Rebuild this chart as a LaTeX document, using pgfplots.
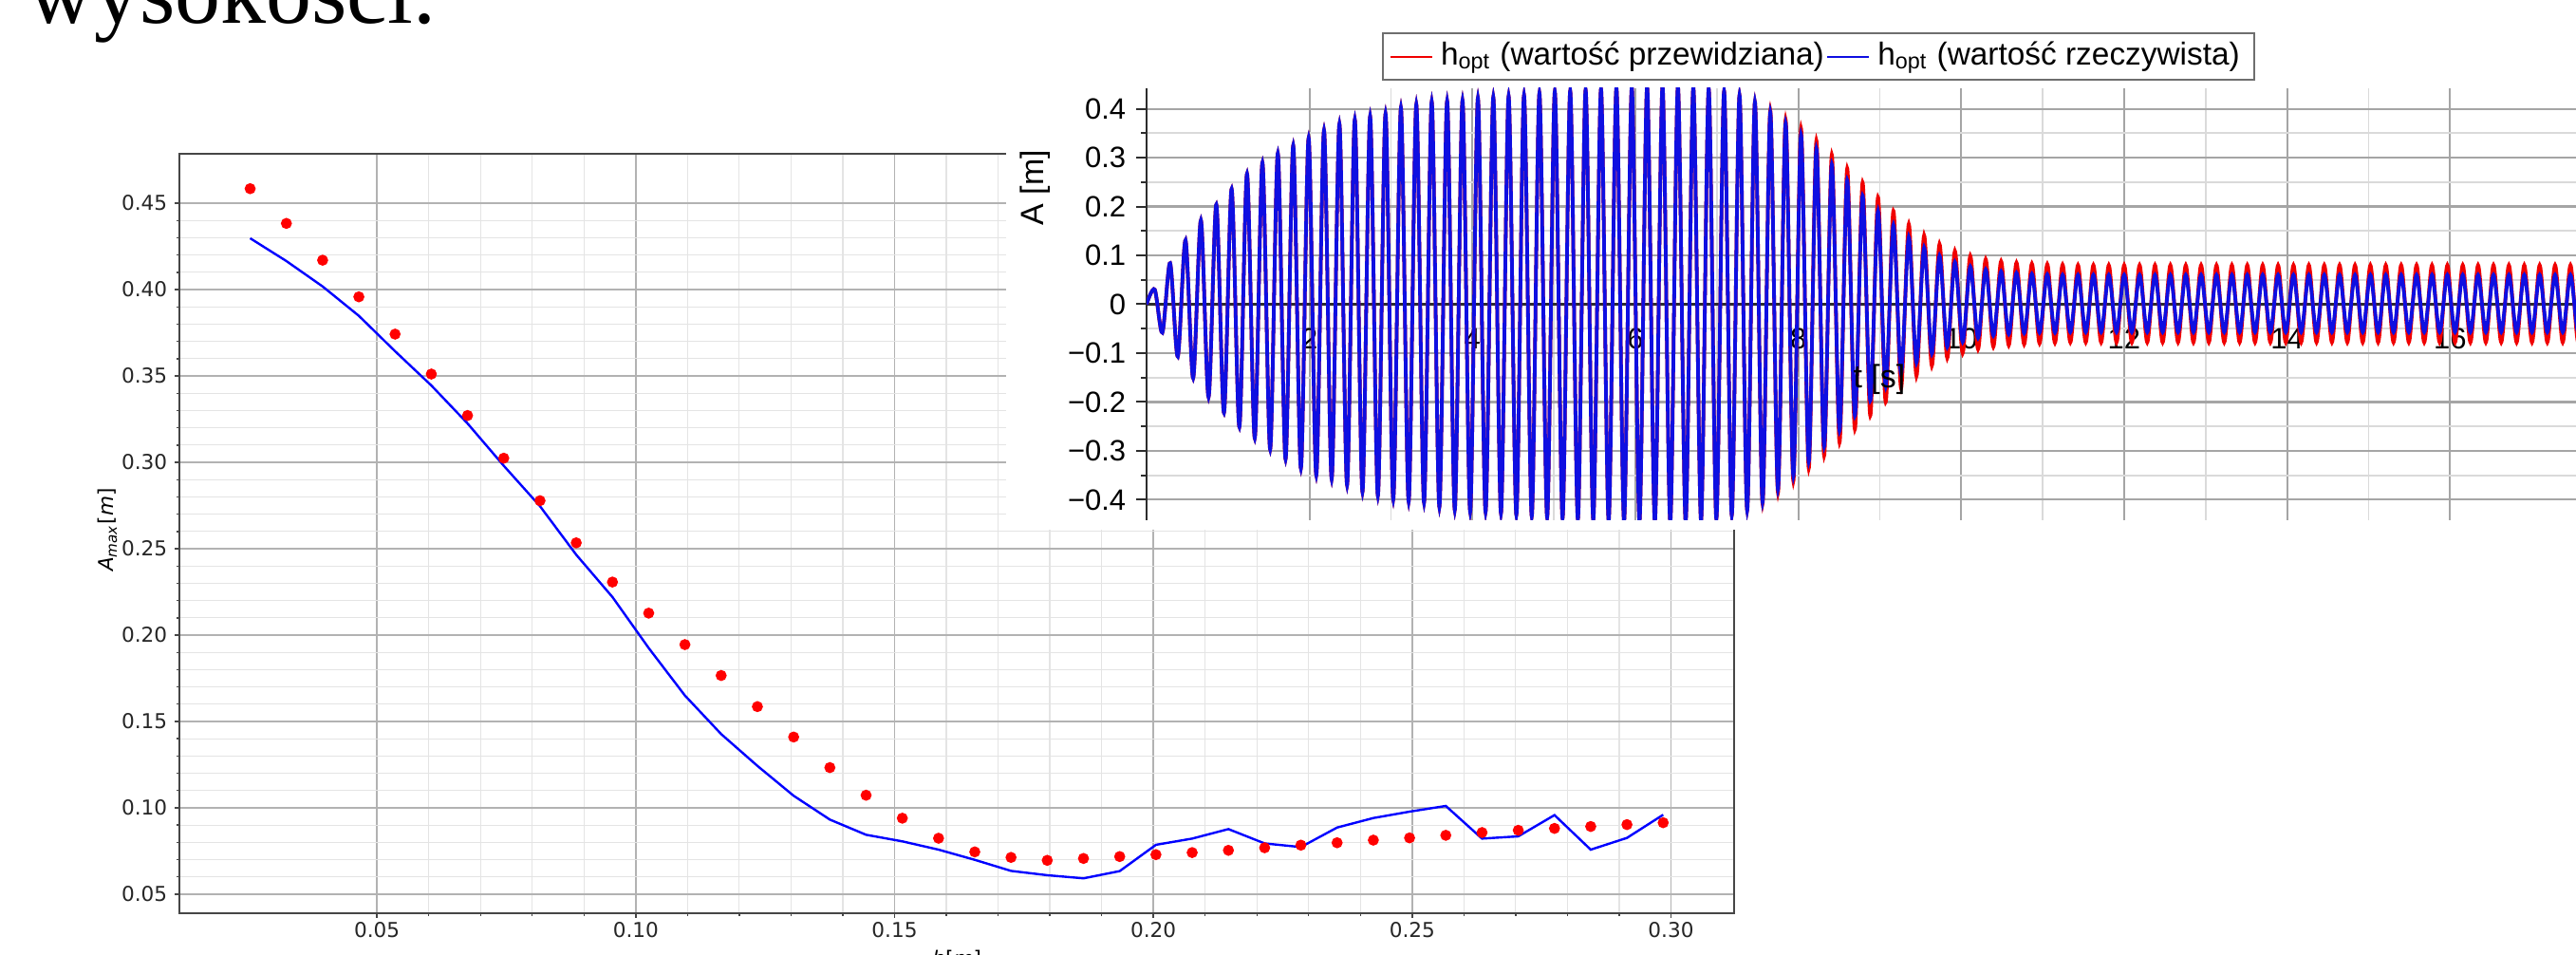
\documentclass[border=0pt]{standalone}
\usepackage{fontspec}
\setmainfont{Liberation Sans}
\newfontfamily\dejavu{DejaVu Sans}
\newfontfamily\libsans{Liberation Sans}
\newfontfamily\libserif{Liberation Serif}
\usepackage{pgfplots}
\usepackage{pgfplotstable}
\pgfplotsset{compat=1.18}

\definecolor{mgmajor}{RGB}{178,178,178}
\definecolor{mgminor}{RGB}{228,228,228}
\definecolor{mframe}{RGB}{70,70,70}
\definecolor{igmajor}{RGB}{165,165,165}
\definecolor{igminor}{RGB}{218,218,218}
\definecolor{iaxis}{RGB}{45,45,45}
\definecolor{legframe}{RGB}{110,110,110}
\definecolor{ired}{RGB}{240,0,0}
\definecolor{iblue}{RGB}{15,15,225}

% A_max against h: model (red dots) and measured (blue line)
\pgfplotstableread{
h      red     blue
0.0255 0.4584  0.4297
0.0325 0.4383  0.4165
0.0395 0.4170  0.4018
0.0465 0.3958  0.3848
0.0535 0.3742  0.3643
0.0605 0.3511  0.3445
0.0675 0.3271  0.3225
0.0745 0.3024  0.2980
0.0815 0.2778  0.2746
0.0885 0.2534  0.2465
0.0955 0.2307  0.2220
0.1025 0.2127  0.1925
0.1095 0.1945  0.1650
0.1165 0.1766  0.1427
0.1235 0.1586  0.1243
0.1305 0.1410  0.1070
0.1375 0.1233  0.0932
0.1445 0.1073  0.0844
0.1515 0.0940  0.0806
0.1585 0.0824  0.0758
0.1655 0.0745  0.0699
0.1725 0.0713  0.0635
0.1795 0.0696  0.0610
0.1865 0.0707  0.0592
0.1935 0.0718  0.0634
0.2005 0.0729  0.0786
0.2075 0.0741  0.0822
0.2145 0.0754  0.0877
0.2215 0.0769  0.0794
0.2285 0.0784  0.0773
0.2355 0.0798  0.0886
0.2425 0.0813  0.0941
0.2495 0.0826  0.0978
0.2565 0.0841  0.1011
0.2635 0.0857  0.0822
0.2705 0.0870  0.0835
0.2775 0.0881  0.0958
0.2845 0.0892  0.0758
0.2915 0.0903  0.0826
0.2985 0.0914  0.0960
}\mainData

% extremes of the oscillation: predicted (p) and real (b)
\pgfplotstableread{
t      p       b
0.000  0       0
0.100  0.030   0.030
0.194  -0.058  -0.058
0.289  0.084   0.084
0.383  -0.107  -0.107
0.478  0.131   0.131
0.572  -0.151  -0.151
0.667  0.172   0.172
0.761  -0.190  -0.190
0.856  0.204   0.204
0.950  -0.222  -0.222
1.044  0.236   0.236
1.139  -0.251  -0.251
1.233  0.267   0.267
1.328  -0.274  -0.274
1.422  0.290   0.290
1.517  -0.297  -0.297
1.611  0.309   0.309
1.706  -0.317  -0.317
1.800  0.325   0.325
1.894  -0.336  -0.336
1.989  0.340   0.340
2.083  -0.350  -0.350
2.178  0.356   0.356
2.272  -0.358  -0.358
2.367  0.369   0.369
2.461  -0.370  -0.370
2.556  0.378   0.378
2.650  -0.384  -0.384
2.744  0.385   0.385
2.839  -0.392  -0.392
2.933  0.390   0.390
3.028  -0.399  -0.399
3.122  0.402   0.402
3.217  -0.404  -0.404
3.311  0.409   0.409
3.406  -0.406  -0.406
3.500  0.415   0.415
3.594  -0.415  -0.415
3.689  0.416   0.416
3.783  -0.421  -0.421
3.878  0.417   0.417
3.972  -0.425  -0.425
4.067  0.422   0.422
4.161  -0.425  -0.425
4.256  0.424   0.424
4.350  -0.428  -0.428
4.444  0.426   0.426
4.539  -0.431  -0.431
4.633  0.428   0.428
4.728  -0.434  -0.434
4.822  0.432   0.432
4.917  -0.436  -0.436
5.011  0.435   0.435
5.106  -0.438  -0.438
5.200  0.437   0.437
5.294  -0.440  -0.440
5.389  0.439   0.439
5.483  -0.441  -0.441
5.578  0.441   0.441
5.672  -0.443  -0.443
5.767  0.443   0.443
5.861  -0.444  -0.444
5.956  0.444   0.444
6.050  -0.445  -0.445
6.144  0.445   0.445
6.239  -0.446  -0.446
6.333  0.446   0.446
6.428  -0.446  -0.446
6.522  0.446   0.446
6.617  -0.445  -0.445
6.711  0.444   0.444
6.806  -0.443  -0.443
6.900  0.441   0.441
6.994  -0.439  -0.439
7.089  0.436   0.436
7.183  -0.432  -0.432
7.278  0.428   0.428
7.372  -0.422  -0.422
7.467  0.414   0.414
7.561  -0.408  -0.405
7.656  0.397   0.393
7.750  -0.386  -0.379
7.844  0.378   0.370
7.939  -0.362  -0.352
8.033  0.360   0.347
8.128  -0.336  -0.322
8.222  0.335   0.318
8.317  -0.310  -0.291
8.411  0.306   0.286
8.506  -0.283  -0.259
8.600  0.278   0.254
8.694  -0.256  -0.228
8.789  0.249   0.222
8.883  -0.228  -0.197
8.978  0.219   0.191
9.072  -0.200  -0.168
9.167  0.191   0.162
9.261  -0.172  -0.142
9.356  0.164   0.137
9.450  -0.147  -0.119
9.544  0.141   0.116
9.639  -0.126  -0.101
9.733  0.123   0.099
9.828  -0.110  -0.087
9.922  0.109   0.086
10.017 -0.100  -0.077
10.111 0.099   0.077
10.206 -0.092  -0.069
10.300 0.092   0.071
10.394 -0.087  -0.064
10.489 0.088   0.067
10.583 -0.084  -0.061
10.678 0.085   0.064
10.772 -0.082  -0.059
10.867 0.083   0.062
10.961 -0.080  -0.058
11.056 0.082   0.061
11.150 -0.079  -0.058
11.244 0.081   0.060
11.339 -0.078  -0.057
11.433 0.080   0.060
11.528 -0.078  -0.057
11.622 0.080   0.060
11.717 -0.078  -0.057
11.811 0.080   0.060
11.906 -0.078  -0.057
12.000 0.080   0.060
12.094 -0.078  -0.057
12.189 0.080   0.060
12.283 -0.078  -0.057
12.378 0.080   0.060
12.472 -0.078  -0.057
12.567 0.080   0.060
12.661 -0.078  -0.057
12.756 0.080   0.060
12.850 -0.078  -0.057
12.944 0.080   0.060
13.039 -0.078  -0.057
13.133 0.080   0.060
13.228 -0.078  -0.057
13.322 0.080   0.060
13.417 -0.078  -0.057
13.511 0.080   0.060
13.606 -0.078  -0.057
13.700 0.080   0.060
13.794 -0.078  -0.057
13.889 0.080   0.060
13.983 -0.078  -0.057
14.078 0.080   0.060
14.172 -0.078  -0.057
14.267 0.080   0.060
14.361 -0.078  -0.057
14.456 0.080   0.060
14.550 -0.078  -0.057
14.644 0.080   0.060
14.739 -0.078  -0.057
14.833 0.080   0.060
14.928 -0.078  -0.057
15.022 0.080   0.060
15.117 -0.078  -0.057
15.211 0.080   0.060
15.306 -0.078  -0.057
15.400 0.080   0.060
15.494 -0.078  -0.057
15.589 0.080   0.060
15.683 -0.078  -0.057
15.778 0.080   0.060
15.872 -0.078  -0.057
15.967 0.080   0.060
16.061 -0.078  -0.057
16.156 0.080   0.060
16.250 -0.078  -0.057
16.344 0.080   0.060
16.439 -0.078  -0.057
16.533 0.080   0.060
16.628 -0.078  -0.057
16.722 0.080   0.060
16.817 -0.078  -0.057
16.911 0.080   0.060
17.006 -0.078  -0.057
17.100 0.080   0.060
17.194 -0.078  -0.057
17.289 0.080   0.060
17.383 -0.078  -0.057
17.478 0.080   0.060
17.572 -0.078  -0.057
17.667 0.080   0.060
}\osc

\begin{document}
\begin{tikzpicture}
\useasboundingbox (0,0) rectangle (678.5pt,251.5pt);

\node[anchor=base west, inner sep=0pt, font=\libserif\fontsize{24}{28}\selectfont] at (7.25pt,245.25pt) {wysokości.};

% main chart
\begin{axis}[
  at={(47.35pt,11pt)}, anchor=south west,
  scale only axis, width=409.4pt, height=200pt,
  xmin=0.0119, xmax=0.3122, ymin=0.039, ymax=0.4786,
  xtick={0.05,0.10,0.15,0.20,0.25,0.30},
  xticklabels={0.05,0.10,0.15,0.20,0.25,0.30},
  ytick={0.05,0.10,0.15,0.20,0.25,0.30,0.35,0.40,0.45},
  yticklabels={0.05,0.10,0.15,0.20,0.25,0.30,0.35,0.40,0.45},
  minor x tick num=4, minor y tick num=4,
  grid=both,
  major grid style={draw=mgmajor, line width=0.4pt},
  minor grid style={draw=mgminor, line width=0.3pt},
  axis line style={draw=mframe, line width=0.5pt},
  tick pos=left, tick align=outside,
  major tick length=1.25pt, minor tick length=0.75pt,
  tick style={draw=mframe, line width=0.35pt},
  ticklabel style={font=\dejavu\fontsize{5.4}{6.5}\selectfont, text=black!85},
  yticklabel style={inner xsep=0pt, xshift=-1.85pt},
  xticklabel style={inner ysep=0pt, yshift=-1.0pt},
  xlabel={\textit{h}[\textit{m}]},
  ylabel={\textit{A}\textsubscript{\textit{max}}[\textit{m}]},
  xlabel style={at={(axis description cs:0.5,-0.0475)}, anchor=north, inner sep=0pt, font=\dejavu\fontsize{5.4}{6.5}\selectfont},
  ylabel style={at={(axis description cs:-0.0467,0.505)}, anchor=center, inner sep=0pt, font=\dejavu\fontsize{5.4}{6.5}\selectfont},
]
\addplot[draw=blue, line width=0.6pt] table[x=h, y=blue] {\mainData};
\addplot[only marks, mark=*, mark size=1.25pt, mark options={draw=red, fill=red}] table[x=h, y=red] {\mainData};
\end{axis}

% pasted inset hides the top right of the main chart
\fill[white] (265pt,112pt) rectangle (678.5pt,251.5pt);

% inset: oscillation in time
\begin{axis}[
  at={(302pt,114.5pt)}, anchor=south west,
  scale only axis, width=376.5pt, height=113.75pt,
  xmin=0, xmax=17.546, ymin=-0.442, ymax=0.442,
  axis x line=middle, axis y line=left,
  every inner x axis line/.append style={-},
  every outer y axis line/.append style={-},
  axis line style={draw=iaxis, line width=0.7pt},
  xtick={2,4,6,8,10,12,14,16}, minor x tick num=1,
  ytick={-0.4,-0.3,-0.2,-0.1,0,0.1,0.2,0.3,0.4},
  yticklabels={−0.4,−0.3,−0.2,−0.1,0,0.1,0.2,0.3,0.4},
  minor y tick num=1,
  grid=both,
  major grid style={draw=igmajor, line width=0.55pt},
  minor grid style={draw=igminor, line width=0.45pt},
  tick align=outside, major tick length=2.75pt, minor tick length=1.5pt,
  xtick style={draw=none},
  ytick style={draw=iaxis, line width=0.5pt},
  hide obscured x ticks=false, hide obscured y ticks=false,
  /pgf/number format/assume math mode=true,
  ticklabel style={font=\libsans\fontsize{7.75}{9}\selectfont},
  xticklabel style={anchor=north, inner ysep=0pt, yshift=-3.5pt},
  yticklabel style={anchor=east, inner xsep=0pt, xshift=-2.5pt},
  xlabel={t [s]},
  xlabel style={at={(axis description cs:0.5126,0.3253)}, anchor=center, inner sep=0pt, font=\libsans\fontsize{8.5}{10}\selectfont},
  ylabel={A [m]},
  ylabel style={at={(axis description cs:-0.0777,0.77)}, anchor=center, inner sep=0pt, font=\libsans\fontsize{8.5}{10}\selectfont},
  legend columns=2,
  legend style={at={(axis description cs:0.1647,1.0736)}, anchor=west,
    draw=legframe, line width=0.5pt, fill=white, inner xsep=1.75pt, inner ysep=1.8pt,
    font=\libsans\fontsize{8.35}{10}\selectfont,
    nodes={inner xsep=2pt, inner ysep=0.5pt},
    /tikz/every even column/.append style={column sep=-1.4pt}},
  legend image code/.code={\draw[#1, line width=0.5pt] (0pt,0pt) -- (11pt,0pt);},
]
\addplot[draw=ired, line width=0.95pt, smooth] table[x=t, y=p] {\osc};
\addlegendentry{h\textsubscript{opt} (wartość przewidziana)}
\addplot[draw=iblue, line width=0.95pt, smooth] table[x=t, y=b] {\osc};
\addlegendentry{h\textsubscript{opt} (wartość rzeczywista)}
\end{axis}
\end{tikzpicture}
\end{document}
